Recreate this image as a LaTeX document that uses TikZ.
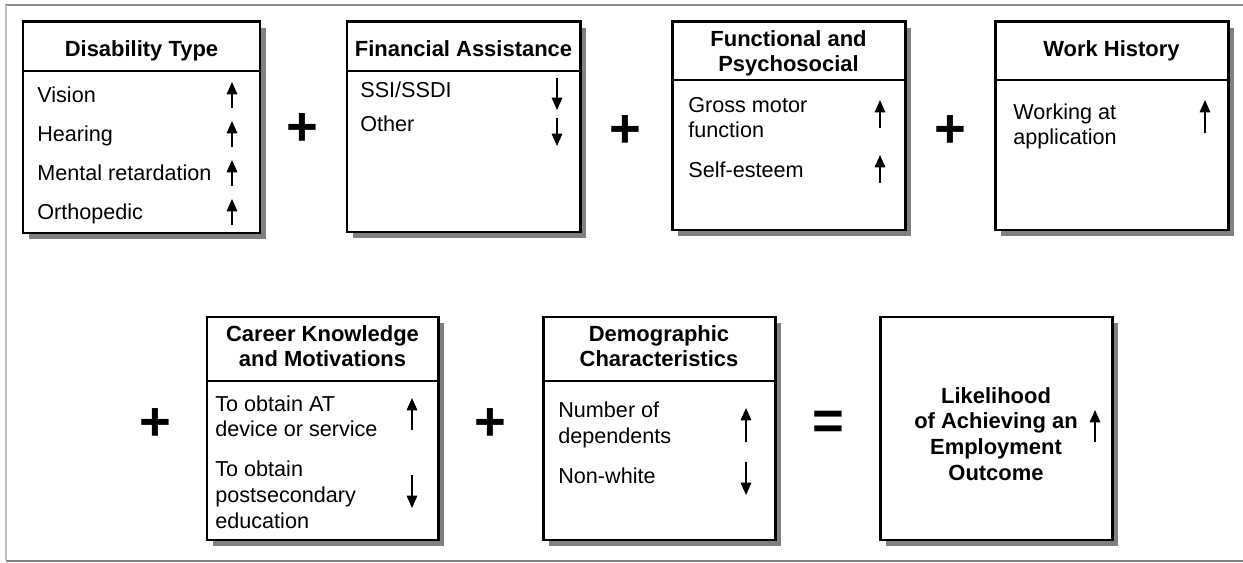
\documentclass[tikz,border=0pt]{standalone}
\usepackage{fontspec}
\setmainfont{Liberation Sans}
\usetikzlibrary{arrows.meta,shadows,fit}

\newcommand{\boxfont}{\fontsize{12.3}{14.6}\selectfont}
\newcommand{\headfont}{\fontsize{12.5}{14.6}\selectfont\bfseries}

\tikzset{
    factor/.style={draw, line width=1.7pt, fill=white, inner sep=0pt,
        drop shadow={shadow xshift=3.4pt, shadow yshift=-3.4pt, fill=black!50, opacity=1}},
    divider/.style={line width=1.7pt},
    heading/.style={font=\headfont, align=center, anchor=base, inner sep=0pt},
    entry/.style={font=\boxfont, align=left, anchor=base west, inner sep=0pt},
    trend/.style={line width=0.8pt, arrows={-Triangle[length=7pt, width=6pt]}},
    sign/.style={font=\fontsize{31}{31}\selectfont\bfseries, inner sep=0pt}
}

\begin{document}
\begin{tikzpicture}[x=0.02cm, y=-0.02cm]
    \useasboundingbox (0,0) rectangle (1243,563);
    \draw[black!45, line width=0.8pt] (5,5) -- (1243,5);
    \draw[black!25, line width=0.8pt] (6,5) -- (6,560);
    \draw[black!50, line width=1.7pt] (6,561) -- (1243,561);

    \coordinate (dis-nw) at (23,22);
    \coordinate (dis-se) at (260,233);
    \node[factor, fit=(dis-nw)(dis-se)] (dis) {};
    \draw[divider] (23,71) -- (260,71);
    \node[heading] (dis-h) at (141.5,57) {Disability Type};
    \foreach \t/\y/\n in {Vision/103/vis, Hearing/142/hea, Mental retardation/181/men, Orthopedic/220/ort}
        {\node[entry] (\n) at (37,\y) {\t}; \draw[trend] (232,\y+5) -- (232,\y-21);}

    \coordinate (fin-nw) at (347,22);
    \coordinate (fin-se) at (580,232);
    \node[factor, fit=(fin-nw)(fin-se)] (fin) {};
    \draw[divider] (347,71) -- (580,71);
    \node[heading] (fin-h) at (463.5,57) {Financial Assistance};
    \node[entry] (ssi) at (360,98) {SSI/SSDI};
    \node[entry] (oth) at (360,132) {Other};
    \draw[trend] (557,78) -- (557,110);
    \draw[trend] (557,118) -- (557,146);

    \coordinate (fun-nw) at (672,22);
    \coordinate (fun-se) at (905,230);
    \node[factor, fit=(fun-nw)(fun-se)] (fun) {};
    \draw[divider] (672,80) -- (905,80);
    \node[heading] (fun-h) at (788.5,72) {Functional and\\Psychosocial};
    \node[entry] (gro) at (688,138) {Gross motor\\function};
    \node[entry] (sel) at (688,178) {Self-esteem};
    \draw[trend] (880,128) -- (880,100);
    \draw[trend] (880,183) -- (880,155);

    \coordinate (wrk-nw) at (995,22);
    \coordinate (wrk-se) at (1228,230);
    \node[factor, fit=(wrk-nw)(wrk-se)] (wrk) {};
    \draw[divider] (995,80) -- (1228,80);
    \node[heading] (wrk-h) at (1111.5,57) {Work History};
    \node[entry] (app) at (1013,145) {Working at\\application};
    \draw[trend] (1205,133) -- (1205,100);

    \coordinate (car-nw) at (207,317);
    \coordinate (car-se) at (438,540);
    \node[factor, fit=(car-nw)(car-se)] (car) {};
    \draw[divider] (207,381) -- (438,381);
    \node[heading] (car-h) at (322.5,367) {Career Knowledge\\and Motivations};
    \node[entry] (atd) at (215,437) {To obtain AT\\device or service};
    \node[entry] (edu) at (215,528) {To obtain\\postsecondary\\education};
    \draw[trend] (412,430) -- (412,398);
    \draw[trend] (412,475) -- (412,508);

    \coordinate (dem-nw) at (543,317);
    \coordinate (dem-se) at (775,540);
    \node[factor, fit=(dem-nw)(dem-se)] (dem) {};
    \draw[divider] (543,381) -- (775,381);
    \node[heading] (dem-h) at (659,367) {Demographic\\Characteristics};
    \node[entry] (dep) at (558,443) {Number of\\dependents};
    \node[entry] (nwh) at (558,483) {Non-white};
    \draw[trend] (746,442) -- (746,408);
    \draw[trend] (746,462) -- (746,495);

    \coordinate (out-nw) at (880,317);
    \coordinate (out-se) at (1112,540);
    \node[factor, fit=(out-nw)(out-se)] (out) {};
    \node[heading] (out-h) at (996,480) {Likelihood\\of Achieving an\\Employment\\Outcome};
    \draw[trend] (1095,442) -- (1095,410);

    \node[sign] (plus1) at (302,130) {+};
    \node[sign] (plus2) at (625,132) {+};
    \node[sign] (plus3) at (950,132) {+};
    \node[sign] (plus4) at (155,425) {+};
    \node[sign] (plus5) at (490,425) {+};
    \node[sign] (eq) at (828,425) {=};
\end{tikzpicture}
\end{document}
